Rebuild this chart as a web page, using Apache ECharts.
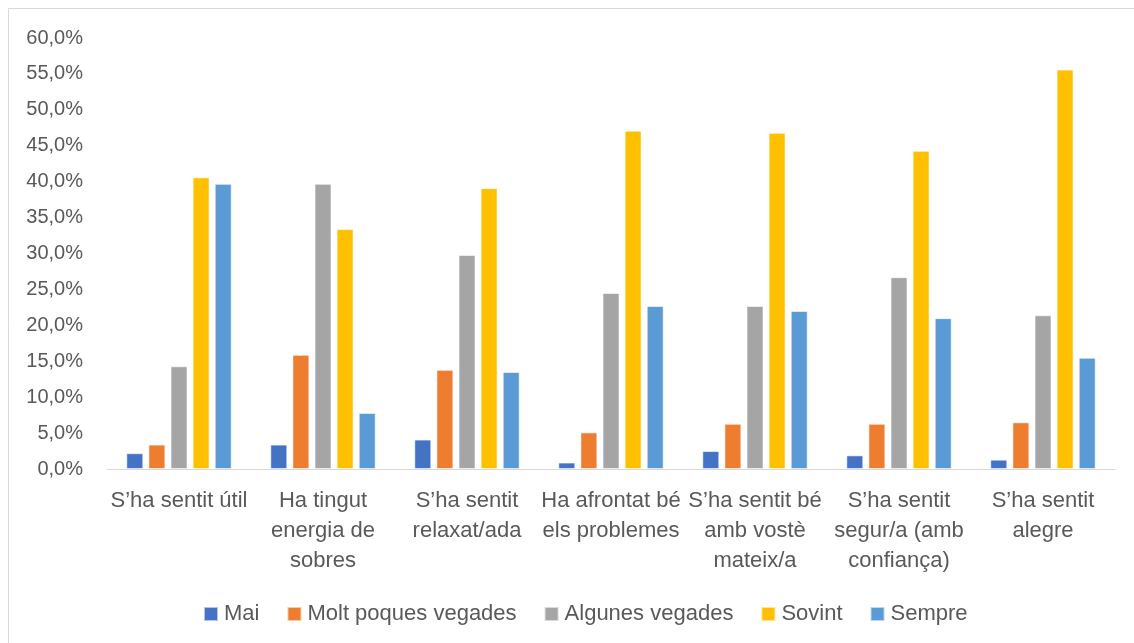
<!DOCTYPE html>
<html>
<head>
<meta charset="utf-8">
<script src="https://cdn.jsdelivr.net/npm/echarts@6/dist/echarts.min.js"></script>
<style>
  html, body { margin: 0; padding: 0; background: #fff; }
  #main { width: 1134px; height: 643px; }
</style>
</head>
<body>
<div id="main"></div>
<script>
const categories = [
    'S’ha sentit útil',
    'Ha tingut\nenergia de\nsobres',
    'S’ha sentit\nrelaxat/ada',
    'Ha afrontat bé\nels problemes',
    'S’ha sentit bé\namb vostè\nmateix/a',
    'S’ha sentit\nsegur/a (amb\nconfiança)',
    'S’ha sentit\nalegre'
];
const seriesNames = ['Mai', 'Molt poques vegades', 'Algunes vegades', 'Sovint', 'Sempre'];
const colors = ['#4472C4', '#ED7D31', '#A5A5A5', '#FFC000', '#5B9BD5'];

const mai = [2.2, 3.4, 4.1, 0.9, 2.5, 1.9, 1.3];
const moltPoques = [3.4, 15.9, 13.8, 5.1, 6.3, 6.3, 6.5];
const algunes = [14.3, 39.7, 29.8, 24.5, 22.7, 26.7, 21.4];
const sovint = [40.6, 33.4, 39.1, 47.1, 46.8, 44.3, 55.6];
const sempre = [39.7, 7.8, 13.5, 22.7, 22.0, 21.0, 15.5];

const allValues = [mai, moltPoques, algunes, sovint, sempre];

const chart = echarts.init(document.getElementById('main'));
const font = '"Liberation Sans", Arial, sans-serif';

const option = {
    animation: false,
    textStyle: { fontFamily: font },
    graphic: [{
        type: 'rect',
        shape: { x: 8.5, y: 8.5, width: 1200, height: 700 },
        style: { fill: 'none', stroke: '#D9D9D9', lineWidth: 1 },
        silent: true
    }],
    grid: { left: 107, right: 19, top: 38, bottom: 174 },
    legend: {
        top: 598,
        left: 198,
        icon: 'rect',
        itemWidth: 14,
        itemHeight: 14,
        itemGap: 27,
        textStyle: { fontSize: 22, color: '#595959', fontFamily: font, padding: [0, 0, 0, 1] },
        data: seriesNames
    },
    xAxis: {
        type: 'category',
        data: categories,
        axisLine: { lineStyle: { color: '#D9D9D9', width: 1 } },
        axisTick: { show: false },
        axisLabel: {
            interval: 0,
            fontSize: 22,
            color: '#595959',
            lineHeight: 30,
            margin: 17,
            fontFamily: font
        }
    },
    yAxis: {
        type: 'value',
        min: 0,
        max: 60,
        interval: 5,
        axisLine: { show: false },
        axisTick: { show: false },
        splitLine: { show: false },
        axisLabel: {
            fontSize: 20,
            color: '#595959',
            margin: 24,
            fontFamily: font,
            formatter: v => v.toFixed(1).replace('.', ',') + '%'
        }
    },
    series: seriesNames.map((name, i) => ({
        name: name,
        type: 'bar',
        data: allValues[i],
        barWidth: 17,
        barGap: '30%',
        itemStyle: { color: colors[i], borderColor: 'rgba(255,255,255,0.6)', borderWidth: 1 }
    }))
};

chart.setOption(option);
</script>
</body>
</html>
